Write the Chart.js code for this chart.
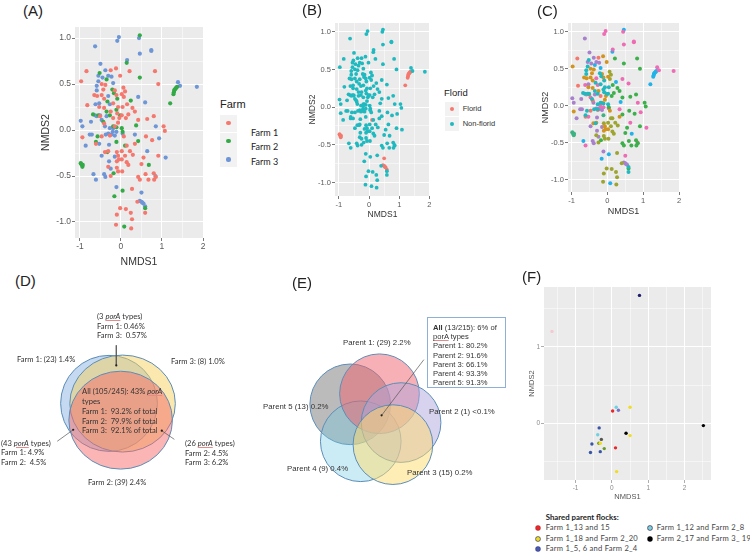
<!DOCTYPE html>
<html>
<head>
<meta charset="utf-8">
<style>
    html, body { margin: 0; padding: 0; background: #fff; width: 750px; height: 555px; overflow: hidden; }
    body { filter: blur(0.3px); }
    canvas { position: absolute; }
    .t { position: absolute; white-space: pre; line-height: 1; }
    .sq { font-style: italic; text-decoration: underline #e58a8a; text-decoration-thickness: 0.6px; text-underline-offset: 1px; }
    .key { position: absolute; background: #f2f2f2; }
    .dot { position: absolute; border-radius: 50%; }
</style>
<script src="https://cdn.jsdelivr.net/npm/chart.js@4"></script>
</head>
<body>
<script>
// NMDS values
const farm1 = [[-.84,.64],[-.97,.53],[-.25,.65],[-.12,.67],[.21,.64],[.83,.64],[-.02,.59],[.91,.50],[-.47,.50],[-.38,.49],[.06,.46],[.10,.42],[-.43,.44],[-.15,.43],[-.65,.38],[-.58,.37],[-.47,.38],[-.41,.34],[-.11,.38],[.02,.39],[.07,.36],[-.82,.27],[-.53,.25],[-.19,.29],[-.07,.25],[.15,.28],[.04,.25],[.28,.24],[.34,.20],[-.41,.24],[-.25,.20],[-.09,.18],[.18,.17],[.02,.16],[-.51,.15],[-.19,.13],[-.04,.13],[.12,.13],[-.07,.08],[.64,.12],[.80,.15],[.42,.11],[-.41,.07],[-.15,.04],[1.04,.04],[1.07,-.01],[-.94,-.08],[-.47,-.07],[-.27,-.06],[.07,-.07],[.61,-.07],[.76,-.11],[-.61,-.15],[.34,-.15],[.14,-.17],[-.39,-.24],[-.31,-.23],[.02,-.23],[-.10,-.24],[.22,-.23],[.29,-.27],[.10,-.28],[-.07,-.28],[.91,-.28],[.55,-.30],[-.05,-.32],[.02,-.32],[-.10,-.34],[.14,-.35],[.50,-.37],[.18,-.38],[-.31,-.40],[-.10,-.41],[.42,-.51],[.60,-.48],[.80,-.47],[.85,-.51],[-.25,-.50],[-.07,-.45],[.03,-.45],[.46,-.54],[.67,-.54],[.81,-.54],[.27,-.64],[.40,-.78],[-.02,-.85],[.12,-.86],[.24,-.90],[-.10,-.92],[.59,-.90],[.27,-.97],[-.12,-1.03],[.25,-1.07]];
const farm2 = [[.46,1.03],[.14,.73],[-.52,.62],[.46,.57],[-.35,.55],[1.20,.29],[1.28,.39],[1.29,.41],[1.30,.43],[1.31,.44],[1.33,.45],[1.35,.46],[1.37,.47],[-.21,.44],[-.17,.40],[-.09,.34],[-.33,.31],[.24,.32],[-.68,.17],[-.55,.16],[-.35,.20],[-.11,.22],[-.02,.16],[-.27,.16],[-.43,.09],[-.19,.04],[-.11,.03],[.02,.02],[.04,-.02],[.37,.05],[-.57,-.07],[-.61,-.13],[-.11,-.13],[.42,-.12],[-.33,-.24],[.10,-.17],[.68,-.38],[-.18,-.47],[.04,-.66],[-.16,-.72],[.59,-.85],[.08,-1.05],[-.98,-.36],[-.97,-.37],[-.95,-.38],[-.94,-.40],[-.93,-.38]];
const farm3 = [[-.05,1.01],[-.09,.97],[.44,1.00],[-.63,.91],[.46,.83],[.74,.87],[.74,.86],[.15,.76],[-.50,.72],[-.38,.65],[-.31,.59],[-.23,.58],[-.55,.59],[-.45,.57],[-.55,.53],[-.19,.51],[-.59,.48],[-.59,.43],[1.39,.52],[1.44,.48],[1.85,.47],[.42,.36],[.59,.30],[-.31,.37],[-.53,.29],[-.62,.28],[-.27,.28],[-.51,.16],[-.63,.16],[-.59,.15],[-.98,.10],[-.94,.04],[-.73,.09],[-.47,.11],[-.35,.15],[-.39,.04],[-.27,.02],[-.20,-.02],[-.31,-.04],[-.27,-.05],[-.15,-.06],[-.11,-.02],[-.23,-.05],[-.37,-.05],[-.19,.02],[-.76,-.05],[-.71,-.05],[.04,-.04],[-.86,-.17],[-.53,-.15],[-.29,-.16],[.34,-.05],[.85,.04],[.93,-.09],[.64,-.23],[1.09,-.30],[-.47,-.28],[-.15,-.29],[-.29,-.34],[-.25,-.42],[-.67,-.48],[-.41,-.48],[-.38,-.51],[-.61,-.54],[-.11,-.62],[.84,-.50],[.50,-.68],[.46,-.77],[.50,-.78],[.52,-.79],[.55,-.80],[.59,-.83]];

// panel B
const florid = [[1.20,.29],[1.28,.39],[1.29,.41],[1.30,.43],[1.31,.44],[1.33,.45],[1.35,.46],[1.37,.47],[-.98,-.36],[-.97,-.37],[-.95,-.38],[-.94,-.40],[-.93,-.38],[.50,-.68],[.46,-.77],[.50,-.78],[.52,-.79],[.55,-.80],[.59,-.83],[.10,-.17]];

// panel C groups, whatever is not listed falls to the teal group
const cLightBlue = [[1.20,.29],[1.28,.39],[1.29,.41],[1.30,.43],[1.31,.44],[1.33,.45],[1.35,.46],[1.37,.47],[.46,1.03],[.14,.73],[-.16,-.72],[.08,-1.05],[.68,-.38],[.04,-.66],[-.19,.51],[.24,.32],[.37,.05],[-.35,.55],[-.67,-.48]];
const cPink = [[-.05,1.01],[-.09,.97],[.44,1.00],[.46,.83],[.74,.87],[.74,.86],[.15,.76],[1.39,.52],[1.44,.48],[1.85,.47],[.42,.36],[.59,.30],[-.61,-.54],[.93,-.09],[1.09,-.30],[.64,-.23],[.85,.04],[.84,-.50],[.50,-.68],[.34,-.05],[-.31,.37],[-.27,.28],[-.62,.28],[-.47,.11],[-.11,-.02],[-.23,-.05],[-.59,.15],[-.53,-.15],[-.20,-.02],[.04,-.04],[-.19,.02]];
const cPurple = [[-.63,.91],[-.50,.72],[-.38,.65],[-.98,.10],[-.94,.04],[-.73,.09],[-.76,-.05],[-.71,-.05],[-.86,-.17],[-.47,-.28],[-.55,.59],[-.45,.57],[-.31,.59],[-.23,.58],[.46,-.77],[.50,-.78],[.52,-.79],[.55,-.80],[-.11,-.62],[-.25,-.42],[-.38,-.51],[-.41,-.48],[-.15,-.29],[-.29,-.34],[-.29,-.16],[-.15,-.06],[-.31,-.04],[-.39,.04],[-.53,.29],[-.35,.15]];
const cGreen = [[.21,.64],[.83,.64],[.91,.50],[.64,.12],[.80,.15],[1.04,.04],[1.07,-.01],[.61,-.07],[.76,-.11],[.42,.11],[.34,.20],[.28,.24],[.15,.28],[.91,-.28],[.55,-.30],[.50,-.37],[.42,-.51],[.60,-.48],[.80,-.47],[.85,-.51],[.46,-.54],[.67,-.54],[.81,-.54],[.46,.57],[.42,-.12],[.59,-.85],[.18,.17],[.12,.13],[-.18,-.47],[.04,-.02]];
const cSeaGreen = [[-.98,-.36],[-.97,-.37],[-.95,-.38],[-.94,-.40],[-.93,-.38],[-.11,-.13]];
const cOlive = [[-.02,-.85],[.12,-.86],[.24,-.90],[-.10,-.92],[.27,-.97],[-.12,-1.03],[.25,-1.07],[.27,-.64],[.40,-.78],[.14,-.35],[.18,-.38],[.22,-.23],[.29,-.27],[.10,-.28],[.02,-.23],[-.10,-.24],[-.10,-.41],[.03,-.45],[-.31,-.40],[-.25,-.50],[.06,.46],[.10,.42],[.07,.36],[.10,-.17],[-.07,-.45],[.14,-.17]];
const cOrange = [[-.97,.53],[-.12,.67],[-.02,.59],[-.47,.50],[-.38,.49],[-.43,.44],[-.65,.38],[-.58,.37],[-.47,.38],[-.41,.34],[-.53,.25],[-.41,.24],[-.15,.04],[-.51,.15],[-.39,-.24],[-.31,-.23],[-.07,-.28],[-.05,-.32],[.02,-.32],[-.10,-.34],[-.94,-.08],[.07,-.07],[-.15,.43],[-.11,.38],[.02,.39],[-.25,.20],[-.04,.13],[-.07,.08],[.34,-.15]];
const cSalmon = [[-.84,.64],[-.82,.27],[-.47,-.07],[-.61,-.15],[-.25,.65],[-.27,-.06],[-.41,.07],[-.19,.13]];

// panel F
const fRed = [[.02,.16],[.10,-.32]];
const fLightBlue = [[.12,.21],[-.39,-.15]];
const fYellow = [[.50,.21],[.50,-.16],[.13,-.63],[-.32,-.26]];
const fPurple = [[.18,.17]];
const fBlue = [[-.35,-.06],[-.55,-.27],[-.59,-.38],[-.32,-.37]];
const fNavy = [[.76,1.67]];
const fPale = [[-1.65,1.20]];
const fBlack = [[.39,-.13],[2.52,-.03]];
const fGray = [[-.29,-.21]];
const fGreen = [[-.36,-.26],[-.21,-.33]];

const xTickLabels = [-1, 0, 1, 2];
const yTickLabels = [1, 0.5, 0, -0.5, -1];
const fYTickLabels = [1, 0];

// venn shapes, in units of the venn axes
const dX = [108.5, 122.5, 120.5], dY = [403.5, 403.7, 421], dRx = [50, 54.5, 53.5], dRy = [50, 50.5, 51];
const dFills = ['rgba(140,180,225,0.5)', 'rgba(245,210,95,0.5)', 'rgba(245,108,105,0.5)'];
const dLeaders = [[[116, 343], [116, 364]], [[55, 443], [71.5, 431]], [[176, 441], [163, 432]]];
// drawn in this order: parent 5, 4, 1, 2, 3
const eX = [350, 361, 380.5, 403, 394.5], eY = [404.5, 443, 393.5, 423.5, 446.5], eR = [42, 42, 41.5, 41.5, 41.5];
const eFills = ['rgba(120,120,122,0.5)', 'rgba(110,200,225,0.35)', 'rgba(240,100,110,0.5)', 'rgba(175,165,220,0.5)', 'rgba(255,220,110,0.5)'];
const eLeaders = [[[426.7, 358], [382.7, 416]]];

Chart.defaults.animation = false;
Chart.defaults.plugins.legend.display = false;
Chart.defaults.plugins.tooltip.enabled = false;
Chart.defaults.responsive = false;

const pts = a => a.map(p => ({ x: p[0], y: p[1] }));
const key = p => p.join();
const allPoints = farm1.concat(farm2, farm3);
const without = list => {
    const s = new Set(list.map(key));
    return allPoints.filter(p => !s.has(key(p)));
};

function addCanvas(left, top, w, h) {
    const c = document.createElement('canvas');
    c.width = w; c.height = h;
    c.style.left = left + 'px';
    c.style.top = top + 'px';
    c.style.width = w + 'px';
    c.style.height = h + 'px';
    document.body.appendChild(c);
    return c.getContext('2d');
}

const panelBg = {
    id: 'panelBg',
    beforeDraw(chart) {
        const a = chart.chartArea;
        chart.ctx.fillStyle = '#ebebeb';
        chart.ctx.fillRect(a.left, a.top, a.width, a.height);
    }
};

// p: plot box, yW / xH: room for the axis on the left and below
function nmdsPanel(p) {
    const padTop = 8, padRight = 10;
    const ctx = addCanvas(p.left - p.yW, p.top - padTop, p.w + p.yW + padRight, p.h + p.xH + padTop);
    const gridOpts = (labels) => ({
        color: '#fff',
        lineWidth: c => (labels.includes(c.tick.value) ? p.major : p.minor),
        tickLength: 3,
        tickColor: c => (labels.includes(c.tick.value) ? p.tickColor : 'rgba(0,0,0,0)'),
        tickWidth: 0.8
    });
    new Chart(ctx, {
        type: 'scatter',
        data: { datasets: p.sets.map(s => ({ data: pts(s.data), backgroundColor: s.color, borderWidth: 0, pointRadius: p.r })) },
        plugins: [panelBg],
        options: {
            layout: { padding: { top: padTop, right: padRight, left: 0, bottom: 0 } },
            scales: {
                x: {
                    type: 'linear', min: p.xMin, max: p.xMax,
                    border: { display: false },
                    grid: gridOpts(xTickLabels),
                    ticks: {
                        stepSize: 0.5, includeBounds: false, autoSkip: false, maxRotation: 0, padding: 1,
                        color: p.tickText, font: { family: 'Liberation Sans', size: p.tickSize },
                        callback: v => (xTickLabels.includes(v) ? String(v) : '')
                    },
                    title: { display: true, text: 'NMDS1', color: p.titleColor, padding: 0, font: { family: 'Liberation Sans', size: p.titleSize, lineHeight: 1 } },
                    afterFit: s => { s.height = p.xH; }
                },
                y: {
                    type: 'linear', min: p.yMin, max: p.yMax,
                    border: { display: false },
                    grid: gridOpts(p.yLabels),
                    ticks: {
                        stepSize: p.yStep, includeBounds: false, autoSkip: false, padding: 1,
                        color: p.tickText, font: { family: 'Liberation Sans', size: p.tickSize },
                        callback: v => (p.yLabels.includes(v) ? (p.yFixed ? v.toFixed(1) : String(v)) : '')
                    },
                    title: { display: true, text: 'NMDS2', color: p.titleColor, padding: 0, font: { family: 'Liberation Sans', size: p.titleSize, lineHeight: 1 } },
                    afterFit: s => { s.width = p.yW; }
                }
            }
        }
    });
}

nmdsPanel({
    left: 75, top: 27, w: 128, h: 211, yW: 34, xH: 29, r: 2.1,
    xMin: -1.12, xMax: 2.0, yMin: -1.174, yMax: 1.12, yStep: 0.25, yLabels: yTickLabels, yFixed: true,
    major: 1, minor: 0.5, tickColor: '#555', tickText: '#5a5a5a', titleColor: '#333', tickSize: 8.5, titleSize: 10.5,
    sets: [{ data: farm1, color: '#f5786e' }, { data: farm2, color: '#32aa46' }, { data: farm3, color: '#6e96d7' }]
});
nmdsPanel({
    left: 335, top: 23, w: 95, h: 173, yW: 27, xH: 23, r: 1.9,
    xMin: -1.13, xMax: 2.02, yMin: -1.18, yMax: 1.117, yStep: 0.25, yLabels: yTickLabels, yFixed: true,
    major: 1, minor: 0.5, tickColor: '#555', tickText: '#5a5a5a', titleColor: '#333', tickSize: 7.5, titleSize: 8.5,
    sets: [{ data: without(florid), color: '#1fb9bf' }, { data: florid, color: '#f5786e' }]
});
nmdsPanel({
    left: 568, top: 23, w: 111, h: 169, yW: 27, xH: 24, r: 2,
    xMin: -1.1, xMax: 2.0, yMin: -1.17, yMax: 1.12, yStep: 0.25, yLabels: yTickLabels, yFixed: true,
    major: 1, minor: 0.5, tickColor: '#555', tickText: '#5a5a5a', titleColor: '#333', tickSize: 7.5, titleSize: 9,
    sets: [
        { data: without([].concat(cLightBlue, cPink, cPurple, cGreen, cSeaGreen, cOlive, cOrange, cSalmon)), color: '#1fb9bf' },
        { data: cSalmon, color: '#f5786e' }, { data: cOrange, color: '#d2941e' }, { data: cOlive, color: '#9da530' },
        { data: cGreen, color: '#3cb04a' }, { data: cSeaGreen, color: '#3cb482' }, { data: cPurple, color: '#a880cc' },
        { data: cPink, color: '#ee6cb4' }, { data: cLightBlue, color: '#20b2e8' }
    ]
});
nmdsPanel({
    left: 544, top: 287, w: 167, h: 193, yW: 16, xH: 21, r: 1.7,
    xMin: -1.87, xMax: 2.73, yMin: -0.74, yMax: 1.78, yStep: 0.5, yLabels: fYTickLabels, yFixed: false,
    major: 1, minor: 0.5, tickColor: '#999', tickText: '#8a8a8a', titleColor: '#555', tickSize: 6.5, titleSize: 7.5,
    sets: [
        { data: fRed, color: '#e8262c' }, { data: fLightBlue, color: '#6fd0e0' }, { data: fYellow, color: '#f0dc20' },
        { data: fPurple, color: '#7b70c8' }, { data: fBlue, color: '#3a55a8' }, { data: fNavy, color: '#1c1f6e' },
        { data: fPale, color: '#f6c8d0' }, { data: fBlack, color: '#000' }, { data: fGray, color: '#555' }, { data: fGreen, color: '#6a9a28' }
    ]
});

// venn panels: centres go through the scales, the plugin draws the outlines around them
function vennPanel(left, top, w, h, xs, ys, rxs, rys, fills, leaders) {
    const ctx = addCanvas(left, top, w, h);
    const ellipses = {
        id: 'ellipses',
        beforeDatasetsDraw(chart) {
            const c = chart.ctx, sx = chart.scales.x, sy = chart.scales.y;
            xs.forEach((x, i) => {
                c.beginPath();
                c.ellipse(sx.getPixelForValue(x), sy.getPixelForValue(ys[i]),
                    sx.getPixelForValue(x + rxs[i]) - sx.getPixelForValue(x),
                    sy.getPixelForValue(ys[i] + rys[i]) - sy.getPixelForValue(ys[i]), 0, 0, Math.PI * 2);
                c.fillStyle = fills[i];
                c.fill();
                c.strokeStyle = '#5b8db8';
                c.lineWidth = 1;
                c.stroke();
            });
        }
    };
    const datasets = [{ data: xs.map((x, i) => ({ x: x, y: ys[i] })), pointRadius: 0 }];
    leaders.forEach(l => datasets.push({
        data: pts(l), showLine: true, borderColor: '#555', borderWidth: 0.7,
        pointRadius: [0, 1.1], backgroundColor: '#222', pointBorderWidth: 0
    }));
    new Chart(ctx, {
        type: 'scatter',
        data: { datasets: datasets },
        plugins: [ellipses],
        options: {
            layout: { padding: 0 },
            scales: {
                x: { type: 'linear', display: false, min: left, max: left + w },
                y: { type: 'linear', display: false, min: top, max: top + h, reverse: true }
            }
        }
    });
}
vennPanel(0, 300, 250, 200, dX, dY, dRx, dRy, dFills, dLeaders);
vennPanel(255, 300, 200, 200, eX, eY, eR, eR, eFills, eLeaders);

// text
function label(x, y, html, font, size, color, extra) {
    const d = document.createElement('div');
    d.className = 't';
    d.innerHTML = html;
    d.style.left = x + 'px';
    d.style.top = (y - size / 2) + 'px';
    d.style.fontFamily = font;
    d.style.fontSize = size + 'px';
    d.style.color = color || '#222';
    if (extra) d.style.cssText += extra;
    document.body.appendChild(d);
}
const SANS = '"Liberation Sans"', CAL = 'Lato';
const por = '<span class="sq">porA</span>';

[['(A)', 23, 10], ['(B)', 302, 9], ['(C)', 537, 10], ['(D)', 15, 280], ['(E)', 292, 282], ['(F)', 522, 276]]
    .forEach(l => label(l[1], l[2], l[0], SANS, 15, '#222'));

// legend A
label(220, 104, 'Farm', SANS, 11, '#222');
const keyBox = (x, y, s) => {
    const k = document.createElement('div');
    k.className = 'key';
    k.style.cssText = `left:${x}px;top:${y}px;width:${s}px;height:${s}px`;
    document.body.appendChild(k);
};
const dot = (x, y, r, color, edge) => {
    const k = document.createElement('div');
    k.className = 'dot';
    k.style.cssText = `left:${x - r}px;top:${y - r}px;width:${2 * r}px;height:${2 * r}px;background:${color};` + (edge ? `box-shadow:0 0 0 0.7px ${edge}` : '');
    document.body.appendChild(k);
};
[115, 132.5, 150].forEach(y => keyBox(220, y, 17));
dot(228.5, 123, 2.1, '#f5786e'); dot(228.5, 141, 2.1, '#32aa46'); dot(228.5, 159.5, 2.1, '#6e96d7');
label(251, 132, 'Farm 1', CAL, 9, '#222');
label(251, 146.5, 'Farm 2', CAL, 9, '#222');
label(251, 161, 'Farm 3', CAL, 9, '#222');

// legend B
label(444, 93, 'Florid', SANS, 9.5, '#222');
[102, 116.5].forEach(y => keyBox(445, y, 14));
dot(451.5, 109, 2, '#f5786e'); dot(451.5, 123.5, 2, '#1fb9bf');
label(462.7, 109, 'Florid', SANS, 7.5, '#333');
label(462.7, 124, 'Non-florid', SANS, 7.5, '#333');

// panel D text
[[97, 317, `(3 ${por} types)`], [97, 326.5, 'Farm 1: 0.46%'], [97, 336, 'Farm 3:  0.57%'],
 [17, 360, 'Farm 1: (23) 1.4%'], [171, 361.5, 'Farm 3: (8) 1.0%'],
 [82, 392, `All (105/245): 43% ${por}`], [82, 402, 'types'], [82, 412, 'Farm 1:  93.2% of total'],
 [82, 421.5, 'Farm 2:  79.9% of total'], [82, 431, 'Farm 3:  92.1% of total'],
 [1, 443.5, `(43 ${por} types)`], [1, 453, 'Farm 1: 4.9%'], [1, 462.5, 'Farm 2:  4.5%'],
 [185, 444, `(26 ${por} types)`], [185, 453.5, 'Farm 2: 4.5%'], [185, 463, 'Farm 3: 6.2%'],
 [88, 483, 'Farm 2: (39) 2.4%']].forEach(l => label(l[0], l[1], l[2], CAL, 7.6, '#333'));

// panel E text
[[343, 343, 'Parent 1: (29) 2.2%'], [263, 407, 'Parent 5 (13) 0.2%'], [429, 412, 'Parent 2 (1) &lt;0.1%'],
 [287, 469, 'Parent 4 (9) 0.4%'], [407, 473, 'Parent 3 (15) 0.2%']].forEach(l => label(l[0], l[1], l[2], SANS, 7.8, '#333'));

const box = document.createElement('div');
box.style.cssText = 'position:absolute;left:426.5px;top:317px;width:77px;height:69px;background:#fff;border:1px solid #8fb0d6';
document.body.appendChild(box);
[[327.7, '<b>All</b> (13/215): 6% of'], [337, '<span style="text-decoration:underline #e58a8a;text-decoration-thickness:0.6px;text-underline-offset:1px">porA</span> types'],
 [346, 'Parent 1: 80.2%'], [355.3, 'Parent 2: 91.6%'], [364.7, 'Parent 3: 66.1%'], [373.7, 'Parent 4: 93.3%'], [383, 'Parent 5: 91.3%']]
    .forEach(l => label(433, l[0], l[1], SANS, 7.6, '#333'));

// legend F
label(545.7, 518, '<b>Shared parent flocks:</b>', CAL, 7.8, '#222');
[[545.7, 528, 'Farm 1_13 and 15'], [545.7, 538.7, 'Farm 1_18 and Farm 2_20'], [545.7, 549, 'Farm 1_5, 6 and Farm 2_4'],
 [656.7, 528, 'Farm 1_12 and Farm 2_8'], [656.7, 538.7, 'Farm 2_17 and Farm 3_ 19']]
    .forEach(l => label(l[0], l[1], l[2], CAL, 7.6, '#444', 'letter-spacing:0.25px'));
dot(538, 528, 2.2, '#e8262c', '#c03030'); dot(538, 539, 2.2, '#f0dc20', '#555'); dot(538, 549, 2.2, '#4a58b0', '#3a4590');
dot(650, 528, 2.2, '#7fd0d8', '#446'); dot(650, 539, 2.2, '#000', '#000');
</script>
</body>
</html>
